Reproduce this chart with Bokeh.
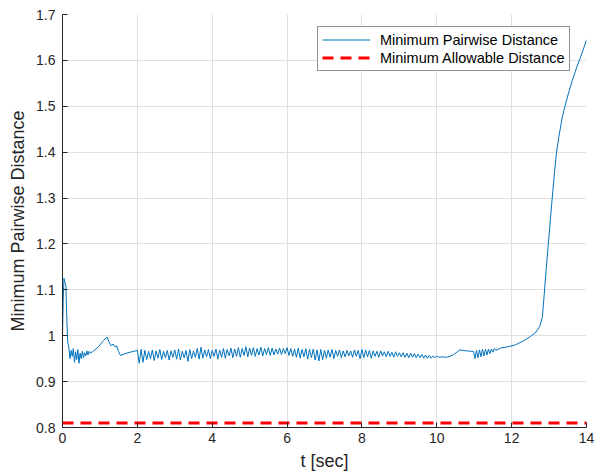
from bokeh.plotting import figure
from bokeh.models import Range1d, FixedTicker, Legend, LegendItem
from bokeh.embed import file_html
from bokeh.resources import INLINE

# ---- data ----
t_start = [0.00, 0.02, 0.04, 0.07, 0.09, 0.11, 0.14, 0.17, 0.20, 0.23, 0.26, 0.29,
           0.32, 0.35, 0.38, 0.41, 0.44, 0.47, 0.50, 0.53, 0.56, 0.59, 0.62, 0.65,
           0.68, 0.71, 0.74, 0.80, 0.95, 1.10, 1.19, 1.25, 1.30, 1.35, 1.40, 1.45,
           1.50, 1.55, 1.65, 1.75, 1.85, 1.95]
d_start = [1.000, 1.080, 1.125, 1.115, 1.110, 1.050, 0.985, 0.975, 0.950, 0.968, 0.955, 0.972,
           0.942, 0.965, 0.948, 0.970, 0.940, 0.962, 0.950, 0.966, 0.952, 0.963, 0.956, 0.967,
           0.958, 0.966, 0.962, 0.965, 0.975, 0.990, 0.997, 0.985, 0.978, 0.982, 0.976, 0.978,
           0.965, 0.957, 0.960, 0.963, 0.965, 0.967]

t_mid = [2.00, 2.05, 2.10, 2.15, 2.20, 2.25, 2.30, 2.35, 2.40, 2.45, 2.50, 2.55, 2.60, 2.65, 2.70, 2.75, 2.80, 2.85, 2.90, 2.95,
         3.00, 3.05, 3.10, 3.15, 3.20, 3.25, 3.30, 3.35, 3.40, 3.45, 3.50, 3.55, 3.60, 3.65, 3.70, 3.75, 3.80, 3.85, 3.90, 3.95,
         4.00, 4.05, 4.10, 4.15, 4.20, 4.25, 4.30, 4.35, 4.40, 4.45, 4.50, 4.55, 4.60, 4.65, 4.70, 4.75, 4.80, 4.85, 4.90, 4.95,
         5.00, 5.05, 5.10, 5.15, 5.20, 5.25, 5.30, 5.35, 5.40, 5.45, 5.50, 5.55, 5.60, 5.65, 5.70, 5.75, 5.80, 5.85, 5.90, 5.95,
         6.00, 6.05, 6.10, 6.15, 6.20, 6.25, 6.30, 6.35, 6.40, 6.45, 6.50, 6.55, 6.60, 6.65, 6.70, 6.75, 6.80, 6.85, 6.90, 6.95,
         7.00, 7.05, 7.10, 7.15, 7.20, 7.25, 7.30, 7.35, 7.40, 7.45, 7.50, 7.55, 7.60, 7.65, 7.70, 7.75, 7.80, 7.85, 7.90, 7.95,
         8.00, 8.05, 8.10, 8.15, 8.20, 8.25, 8.30, 8.35, 8.40, 8.45, 8.50, 8.55, 8.60, 8.65, 8.70, 8.75, 8.80, 8.85, 8.90, 8.95,
         9.00, 9.05, 9.10, 9.15, 9.20, 9.25, 9.30, 9.35, 9.40, 9.45, 9.50, 9.55, 9.60, 9.65, 9.70, 9.75, 9.80, 9.85, 9.90, 9.95,
         10.00]
d_mid = [0.968, 0.940, 0.970, 0.942, 0.968, 0.948, 0.966, 0.950, 0.969, 0.946, 0.967, 0.951, 0.970, 0.948, 0.966, 0.952, 0.968, 0.947, 0.967, 0.953,
         0.969, 0.949, 0.971, 0.947, 0.966, 0.952, 0.968, 0.944, 0.970, 0.950, 0.967, 0.953, 0.972, 0.949, 0.975, 0.951, 0.969, 0.954, 0.970, 0.950,
         0.968, 0.955, 0.971, 0.949, 0.969, 0.953, 0.972, 0.951, 0.970, 0.956, 0.973, 0.952, 0.971, 0.955, 0.974, 0.953, 0.972, 0.957, 0.976, 0.954,
         0.973, 0.957, 0.974, 0.955, 0.972, 0.958, 0.975, 0.956, 0.972, 0.959, 0.974, 0.957, 0.973, 0.958, 0.971, 0.960, 0.973, 0.959, 0.972, 0.961,
         0.974, 0.957, 0.972, 0.955, 0.971, 0.953, 0.973, 0.951, 0.970, 0.954, 0.972, 0.949, 0.970, 0.952, 0.971, 0.947, 0.969, 0.945, 0.970, 0.948,
         0.968, 0.951, 0.969, 0.953, 0.970, 0.950, 0.968, 0.955, 0.969, 0.952, 0.967, 0.954, 0.968, 0.956, 0.967, 0.953, 0.969, 0.955, 0.968, 0.950,
         0.970, 0.952, 0.969, 0.954, 0.968, 0.951, 0.967, 0.955, 0.966, 0.953, 0.967, 0.956, 0.965, 0.954, 0.966, 0.955, 0.964, 0.953, 0.965, 0.955,
         0.963, 0.954, 0.963, 0.953, 0.962, 0.952, 0.962, 0.953, 0.961, 0.952, 0.960, 0.952, 0.959, 0.951, 0.958, 0.951, 0.957, 0.951, 0.956, 0.952,
         0.956]

t_end = [10.05, 10.15, 10.25, 10.35, 10.45, 10.55, 10.62, 10.70, 10.80, 10.90, 10.98,
         11.02, 11.06, 11.10, 11.14, 11.18, 11.22, 11.26, 11.30, 11.34, 11.38, 11.42, 11.46, 11.50, 11.54, 11.58,
         11.70, 11.90, 12.10, 12.30, 12.50, 12.65, 12.75, 12.82, 12.87, 12.92, 12.98, 13.04, 13.10, 13.15,
         13.20, 13.26, 13.35, 13.44, 13.53, 13.62, 13.73, 13.84, 13.92, 14.00]
d_end = [0.953, 0.954, 0.953, 0.955, 0.959, 0.965, 0.969, 0.968, 0.967, 0.966, 0.966,
         0.950, 0.968, 0.952, 0.969, 0.954, 0.970, 0.956, 0.970, 0.958, 0.971, 0.961, 0.971, 0.964, 0.972, 0.968,
         0.973, 0.976, 0.980, 0.988, 0.998, 1.008, 1.020, 1.040, 1.090, 1.142, 1.200, 1.258, 1.315, 1.360,
         1.400, 1.433, 1.475, 1.505, 1.532, 1.556, 1.583, 1.607, 1.625, 1.645]

t_limit = [0, 14]
d_limit = [0.81, 0.81]

x_ticks = [0, 2, 4, 6, 8, 10, 12, 14]
y_ticks = [0.8, 0.9, 1.0, 1.1, 1.2, 1.3, 1.4, 1.5, 1.6, 1.7]
y_tick_labels = ["0.8", "0.9", "1", "1.1", "1.2", "1.3", "1.4", "1.5", "1.6", "1.7"]

series_labels = ["Minimum Pairwise Distance", "Minimum Allowable Distance"]

# ---- figure ----
FONT = "Liberation Sans"
TXT = "#262626"

p = figure(width=595, height=473, output_backend="svg", toolbar_location=None,
           x_range=Range1d(0, 14), y_range=Range1d(0.8, 1.7),
           min_border_left=62, min_border_top=14, min_border_right=9, min_border_bottom=46)
p.outline_line_color = None
p.background_fill_color = "white"
p.border_fill_color = "white"

t_all = t_start + t_mid + t_end
d_all = d_start + d_mid + d_end

r_blue = p.line(t_all, d_all, line_color="#0072BD", line_width=1)
r_red = p.line(t_limit, d_limit, line_color="#FF0000", line_width=3, line_dash="11 7")

p.xaxis.ticker = FixedTicker(ticks=x_ticks)
p.yaxis.ticker = FixedTicker(ticks=y_ticks)
p.yaxis.major_label_overrides = {v: s for v, s in zip(y_ticks, y_tick_labels)}
p.xaxis.major_label_overrides = {v: str(v) for v in x_ticks}

for ax in (p.xaxis[0], p.yaxis[0]):
    ax.axis_line_color = TXT
    ax.axis_line_width = 1
    ax.major_tick_line_color = TXT
    ax.major_tick_in = 5
    ax.major_tick_out = 0
    ax.minor_tick_line_color = None
    ax.major_label_text_font = FONT
    ax.major_label_text_font_size = "14px"
    ax.major_label_text_color = TXT
    ax.major_label_text_line_height = 1.0
    ax.axis_label_text_font = FONT
    ax.axis_label_text_font_size = "18px"
    ax.axis_label_text_font_style = "normal"
    ax.axis_label_text_color = TXT
    ax.axis_label_text_line_height = 1.0

p.xaxis.axis_label = "t [sec]"
p.yaxis.axis_label = "Minimum Pairwise Distance"
p.xaxis.major_label_standoff = 5
p.yaxis.major_label_standoff = 7
p.xaxis.axis_label_standoff = 5
p.yaxis.axis_label_standoff = 5

p.xgrid.ticker = FixedTicker(ticks=x_ticks)
p.ygrid.ticker = FixedTicker(ticks=y_ticks)
p.grid.grid_line_color = "#e0e0e0"
p.grid.grid_line_width = 1

legend = Legend(items=[LegendItem(label=series_labels[0], renderers=[r_blue]),
                       LegendItem(label=series_labels[1], renderers=[r_red])],
                location=(255, 356), padding=4, spacing=1, margin=0,
                glyph_width=48, glyph_height=17, label_height=17, label_standoff=10,
                label_text_font=FONT, label_text_font_size="14.5px", label_text_color="black",
                border_line_color=TXT, border_line_width=1, background_fill_color="white",
                background_fill_alpha=1.0)
p.add_layout(legend, "center")

open("out.html", "w").write(file_html(p, INLINE))
